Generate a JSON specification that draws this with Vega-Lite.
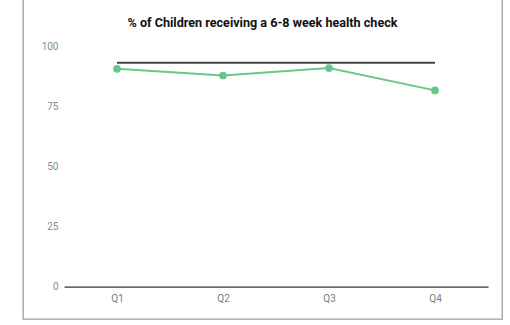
{
  "$schema": "https://vega.github.io/schema/vega-lite/v6.json",
  "autosize": "none",
  "width": 479,
  "height": 329,
  "padding": {"left": 23, "top": -10, "right": 8, "bottom": 6},
  "background": "white",
  "title": {
    "text": "% of Children receiving a 6-8 week health check",
    "font": "Roboto",
    "fontSize": 12.6,
    "fontWeight": "bold",
    "color": "#111111",
    "anchor": "middle",
    "baseline": "middle",
    "offset": -45.5
  },
  "data": {
    "values": [
      {"quarter": "Q1", "value": 90.8, "target": 93.3},
      {"quarter": "Q2", "value": 88.0, "target": 93.3},
      {"quarter": "Q3", "value": 91.1, "target": 93.3},
      {"quarter": "Q4", "value": 81.8, "target": 93.3}
    ]
  },
  "encoding": {
    "x": {
      "field": "quarter",
      "type": "ordinal",
      "scale": {"range": [41, 465], "paddingInner": 0, "paddingOuter": 0},
      "axis": {
        "title": null,
        "labelAngle": 0,
        "offset": -32.3,
        "domainColor": "#333333",
        "domainWidth": 1.2,
        "ticks": false,
        "tickSize": 0,
        "labelPadding": 7,
        "labelFont": "Roboto",
        "labelFontSize": 10,
        "labelColor": "#7a7a7a"
      }
    }
  },
  "layer": [
    {
      "mark": {"type": "line", "color": "#444444", "strokeWidth": 2},
      "encoding": {
        "y": {
          "field": "target",
          "type": "quantitative",
          "scale": {"domain": [0, 100], "range": [296.7, 56.7]},
          "axis": {
            "title": null,
            "values": [0, 25, 50, 75, 100],
            "grid": false,
            "domain": false,
            "ticks": false,
            "tickSize": 0,
            "labelPadding": 0,
            "offset": -35,
            "labelFont": "Roboto",
            "labelFontSize": 10,
            "labelColor": "#8a8a8a"
          }
        }
      }
    },
    {
      "mark": {
        "type": "line",
        "color": "#6cc68a",
        "strokeWidth": 2,
        "point": {"filled": true, "size": 60, "color": "#6cc68a"}
      },
      "encoding": {
        "y": {"field": "value", "type": "quantitative"}
      }
    }
  ],
  "config": {
    "view": {"stroke": "#9e9e9e", "strokeWidth": 1.3}
  }
}
